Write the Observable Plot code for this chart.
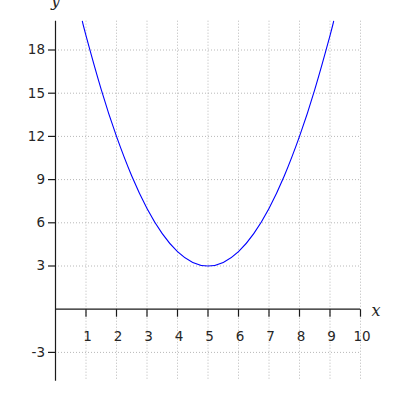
<!DOCTYPE html>
<html>
<head>
<meta charset="utf-8">
<script src="https://cdn.jsdelivr.net/npm/d3@7"></script>
<script src="https://cdn.jsdelivr.net/npm/@observablehq/plot@0.6"></script>
<style>
  html, body { margin: 0; padding: 0; background: #fff; }
</style>
</head>
<body>
<div id="chart"></div>
<script>
// Curve samples
const curveX = [0.88, 1, 1.5, 2, 2.5, 3, 3.5, 4, 4.5, 5, 5.5, 6, 6.5, 7, 7.5, 8, 8.5, 9, 9.12];
const curveY = [20, 19, 15.25, 12, 9.25, 7, 5.25, 4, 3.25, 3, 3.25, 4, 5.25, 7, 9.25, 12, 15.25, 19, 20];

// Axis ticks
const xTicks = [1, 2, 3, 4, 5, 6, 7, 8, 9, 10];
const yTicks = [-3, 3, 6, 9, 12, 15, 18];
const xDomain = [0, 10];
const yDomain = [-5, 20];

const curve = curveX.map((x, i) => ({x, y: curveY[i]}));

const tickDown = {draw(ctx) { ctx.moveTo(0, 0); ctx.lineTo(0, 7.5); }};
const tickLeft = {draw(ctx) { ctx.moveTo(0, 0); ctx.lineTo(-7.5, 0); }};

const axisColor = "#1a1a1a";
const textColor = "#262626";

const chart = Plot.plot({
  width: 400,
  height: 400,
  marginLeft: 55,
  marginRight: 40,
  marginTop: 20.7,
  marginBottom: 19.3,
  x: {domain: xDomain, axis: null},
  y: {domain: yDomain, axis: null},
  style: {fontFamily: "DejaVu Sans", fontSize: "13.5px", background: "#fff"},
  marks: [
    Plot.gridX(xTicks, {stroke: "#b8b8b8", strokeOpacity: 1, strokeDasharray: "1,2"}),
    Plot.gridY(yTicks, {stroke: "#b8b8b8", strokeOpacity: 1, strokeDasharray: "1,2"}),
    Plot.ruleY([0], {stroke: axisColor, strokeWidth: 1.2}),
    Plot.ruleX([0], {stroke: axisColor, strokeWidth: 1.2}),
    Plot.dot(xTicks, {x: d => d, y: 0, symbol: tickDown, stroke: axisColor, strokeWidth: 1.2, fill: "none"}),
    Plot.dot(yTicks, {x: 0, y: d => d, symbol: tickLeft, stroke: axisColor, strokeWidth: 1.2, fill: "none"}),
    Plot.text(xTicks, {x: d => d, y: 0, text: d => String(d), dy: 27, dx: 1.5, fill: textColor,
      fontFamily: "DejaVu Sans", fontSize: 13.5}),
    Plot.text(yTicks, {x: 0, y: d => d, text: d => String(d), dx: -10.5, textAnchor: "end", fill: textColor,
      fontFamily: "DejaVu Sans", fontSize: 13.5}),
    Plot.line(curve, {x: "x", y: "y", curve: "natural", stroke: "#0000ff", strokeWidth: 1.1}),
    Plot.text(["x"], {x: xDomain[1], y: 0, text: d => d, dx: 11, dy: 2, textAnchor: "start",
      fontFamily: "DejaVu Serif", fontStyle: "italic", fontSize: 16, fill: textColor}),
    Plot.text(["y"], {x: 0, y: yDomain[1], text: d => d, dy: -20, textAnchor: "middle",
      fontFamily: "DejaVu Serif", fontStyle: "italic", fontSize: 16, fill: textColor})
  ]
});
document.getElementById("chart").appendChild(chart);
</script>
</body>
</html>
